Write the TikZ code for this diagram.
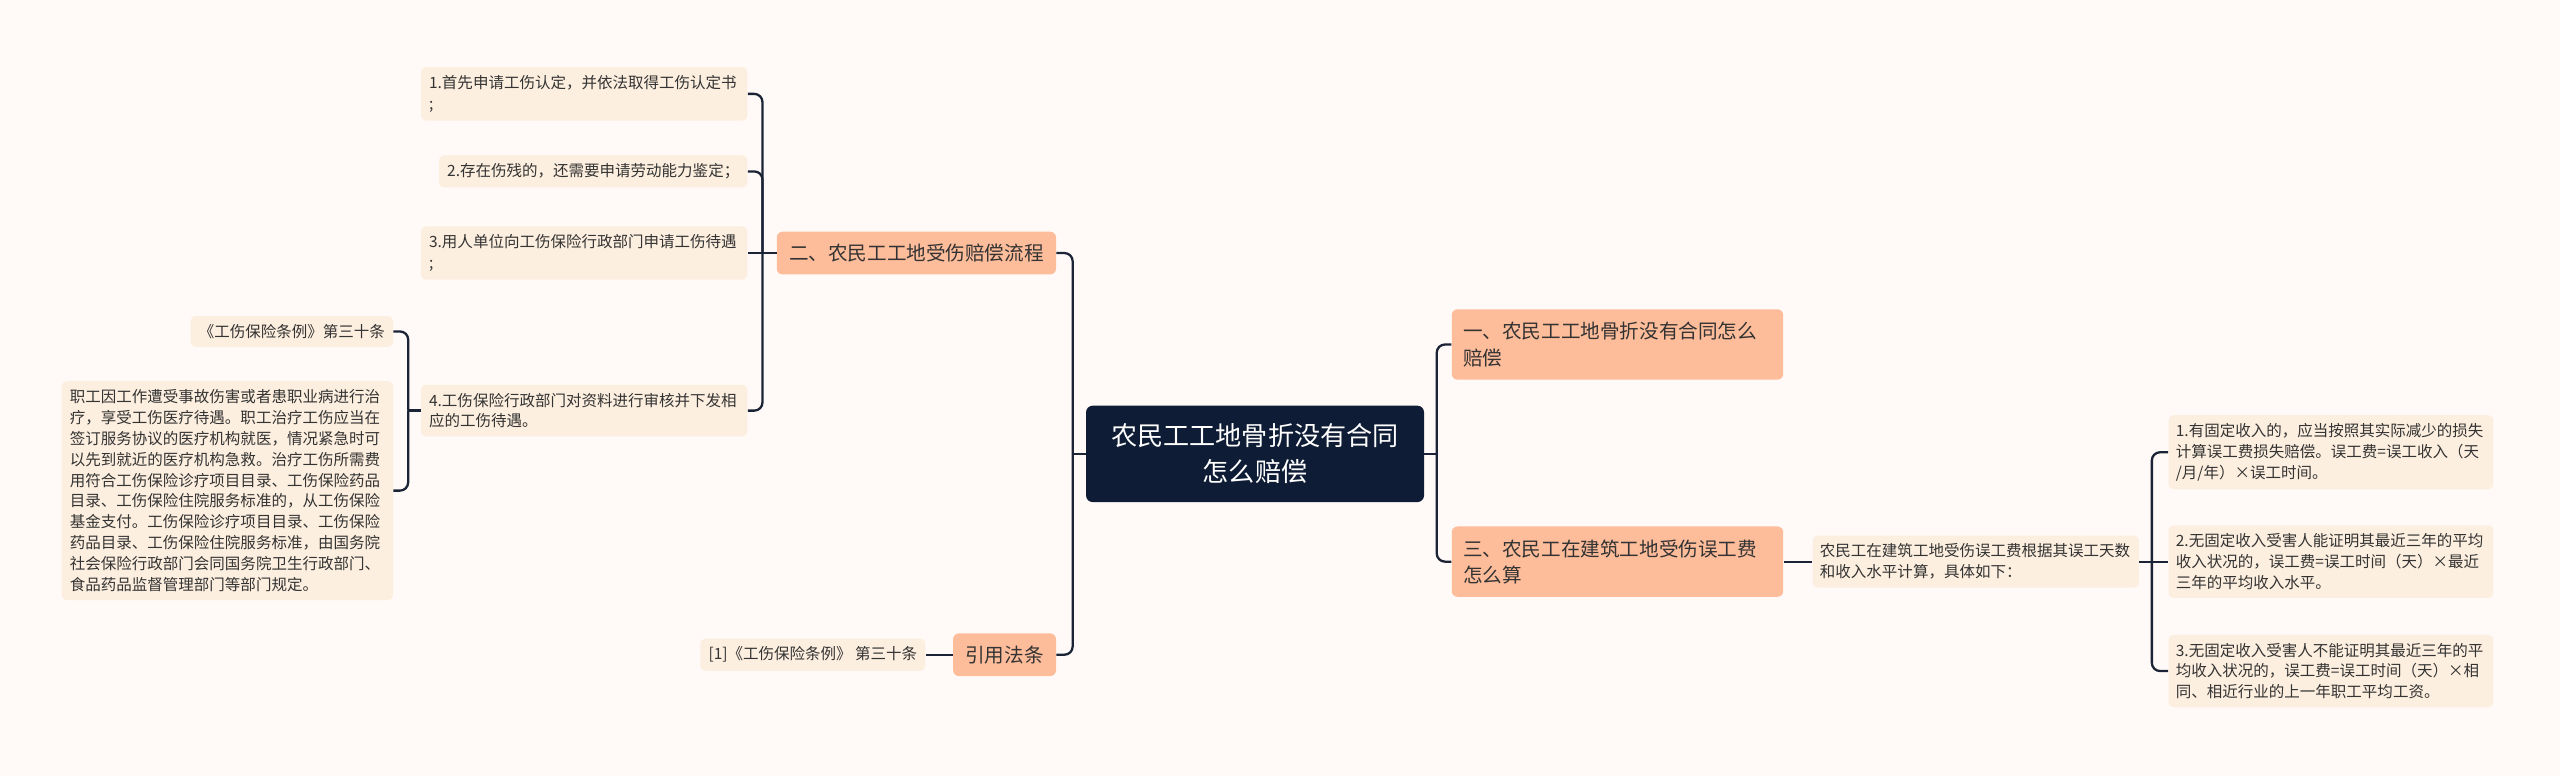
\documentclass[tikz,border=0pt]{standalone}
\usepackage{fontspec}
\setmainfont{Noto Sans CJK SC}
\usetikzlibrary{calc}
\definecolor{bgc}{HTML}{FFFAF7}
\definecolor{leafc}{HTML}{FDEFDF}
\definecolor{mainc}{HTML}{FDBC9A}
\definecolor{rootc}{HTML}{0E1D35}
\definecolor{linec}{HTML}{1B2436}
\definecolor{txtc}{HTML}{333333}
\begin{document}
\begin{tikzpicture}[x=1pt,y=-1pt,
 leaf/.style={fill=leafc, rounded corners=3pt, inner xsep=5pt, inner ysep=5pt, font=\fontsize{9.5}{12.8}\selectfont, align=left, text=txtc},
 mainbox/.style={fill=mainc, rounded corners=3.5pt, inner xsep=7.5pt, inner ysep=7.5pt, font=\fontsize{12}{16}\selectfont, align=left, text=txtc},
 rootbox/.style={fill=rootc, rounded corners=4pt, text=white, font=\fontsize{16}{22}\selectfont, align=center, minimum width=207pt, minimum height=59pt},
 conn/.style={draw=linec, line width=1.4pt, rounded corners=5pt}]
\fill[bgc] (0,0) rectangle (1568,475);
\useasboundingbox (0,0) rectangle (1568,475);

% root
\node[rootbox, anchor=west] (root) at (665,278) {农民工工地骨折没有合同\\怎么赔偿};

% level one
\node[mainbox, anchor=east] (m2) at (647,155) {二、农民工工地受伤赔偿流程};
\node[mainbox, anchor=east] (m4) at (647,401) {引用法条};
\node[mainbox, anchor=west, text width=189pt, inner xsep=7pt, inner ysep=8pt] (m1) at (889,211) {一、农民工工地骨折没有合同怎么\\赔偿};
\node[mainbox, anchor=west, text width=189pt, inner xsep=7pt, inner ysep=8pt] (m3) at (889,344) {三、农民工在建筑工地受伤误工费\\怎么算};

% left leaves
\node[leaf, anchor=east, text width=190pt] (a1) at (458,57.5) {1.首先申请工伤认定，并依法取得工伤认定书\\;};
\node[leaf, anchor=east] (a2) at (458,105) {2.存在伤残的，还需要申请劳动能力鉴定；};
\node[leaf, anchor=east, text width=190pt] (a3) at (458,155) {3.用人单位向工伤保险行政部门申请工伤待遇\\;};
\node[leaf, anchor=east, text width=190pt] (a4) at (458,251.5) {4.工伤保险行政部门对资料进行审核并下发相\\应的工伤待遇。};
\node[leaf, anchor=east] (b1) at (241,203) {《工伤保险条例》第三十条};
\node[leaf, anchor=east, text width=193pt] (b2) at (241,300.5) {职工因工作遭受事故伤害或者患职业病进行治\\疗，享受工伤医疗待遇。职工治疗工伤应当在\\签订服务协议的医疗机构就医，情况紧急时可\\以先到就近的医疗机构急救。治疗工伤所需费\\用符合工伤保险诊疗项目目录、工伤保险药品\\目录、工伤保险住院服务标准的，从工伤保险\\基金支付。工伤保险诊疗项目目录、工伤保险\\药品目录、工伤保险住院服务标准，由国务院\\社会保险行政部门会同国务院卫生行政部门、\\食品药品监督管理部门等部门规定。};
\node[leaf, anchor=east] (c1) at (567,401) {[1]《工伤保险条例》 第三十条};

% right leaves
\node[leaf, anchor=west, text width=191pt, inner xsep=4.5pt] (d1) at (1110,344) {农民工在建筑工地受伤误工费根据其误工天数\\和收入水平计算，具体如下：};
\node[leaf, anchor=west, text width=190pt, inner xsep=4.5pt] (r1) at (1328,277) {1.有固定收入的，应当按照其实际减少的损失\\计算误工费损失赔偿。误工费=误工收入（天\\/月/年）×误工时间。};
\node[leaf, anchor=west, text width=190pt, inner xsep=4.5pt] (r2) at (1328,344) {2.无固定收入受害人能证明其最近三年的平均\\收入状况的，误工费=误工时间（天）×最近\\三年的平均收入水平。};
\node[leaf, anchor=west, text width=190pt, inner xsep=4.5pt] (r3) at (1328,411) {3.无固定收入受害人不能证明其最近三年的平\\均收入状况的，误工费=误工时间（天）×相\\同、相近行业的上一年职工平均工资。};

% connectors
\coordinate (jl) at (657,278);
\draw[conn] (root.west) -- (jl);
\draw[conn] (jl) |- (m2.east);
\draw[conn] (jl) |- (m4.east);

\coordinate (jr) at (880,278);
\draw[conn] (root.east) -- (jr);
\draw[conn] (jr) |- (m1.west);
\draw[conn] (jr) |- (m3.west);

\coordinate (j2) at (467,155);
\draw[conn] (m2.west) -- (j2);
\draw[conn] (j2) |- (a1.east);
\draw[conn] (j2) |- (a2.east);
\draw[conn] (j2) -- (a3.east);
\draw[conn] (j2) |- (a4.east);

\coordinate (j4) at (250,251.5);
\draw[conn] (a4.west) -- (j4);
\draw[conn] (j4) |- (b1.east);
\draw[conn] (j4) |- (b2.east);

\draw[conn] (m4.west) -- (c1.east);
\draw[conn] (m3.east) -- (d1.west);

\coordinate (jd) at (1318,344);
\draw[conn] (d1.east) -- (jd);
\draw[conn] (jd) |- (r1.west);
\draw[conn] (jd) -- (r2.west);
\draw[conn] (jd) |- (r3.west);
\end{tikzpicture}
\end{document}
